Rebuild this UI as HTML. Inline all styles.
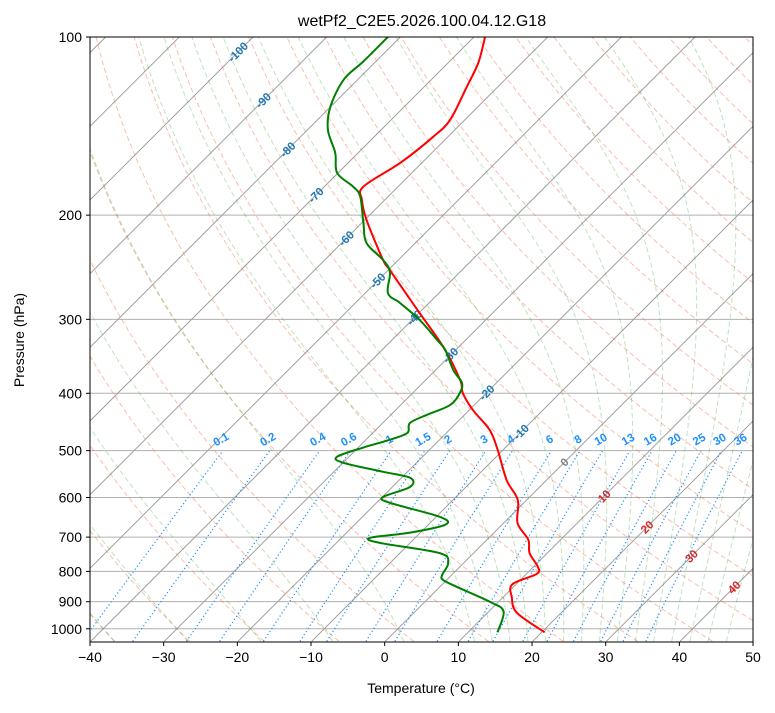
<!DOCTYPE html>
<html><head><meta charset="utf-8">
<style>
html,body{margin:0;padding:0;background:#fff;}
svg text{font-family:"Liberation Sans","DejaVu Sans",sans-serif;}
</style></head>
<body>
<svg id="chart" width="775" height="708" viewBox="0 0 775 708" xmlns="http://www.w3.org/2000/svg">
<defs><clipPath id="clip"><rect x="90" y="37" width="663" height="605"/></clipPath></defs>
<text x="422" y="26" text-anchor="middle" font-size="16">wetPf2_C2E5.2026.100.04.12.G18</text>
<g id="bg" clip-path="url(#clip)"></g>
<g id="labels"></g>
<g id="profiles" clip-path="url(#clip)"></g>
<rect x="90" y="37" width="663" height="605" fill="none" stroke="#000" stroke-width="1"/>
<g id="axes"></g>
<text x="421" y="693" text-anchor="middle" font-size="14">Temperature (°C)</text>
<text x="24" y="340" text-anchor="middle" font-size="14" transform="rotate(-90 24 340)">Pressure (hPa)</text>
</svg>
<script>
const tempP=[100,110.6,121.5,138,147.6,163,179,188.5,204,238,247.6,292.8,334,380,399.6,427,461.6,499,561,606,663,707,745,786,808,841,885,940,1014];
const tempT=[-68.5,-65.9,-64.2,-62.0,-62.0,-62.9,-64.7,-63.1,-59.7,-52.1,-49.8,-39.9,-32.1,-25.3,-23.2,-19.5,-14.5,-10.7,-5.4,-1.2,1.9,5.6,7.6,10.6,11.4,9.5,11.2,14.0,20.4];
const dewP=[100,110,118,131.3,143.6,157,169.8,179,186,206,223,238,249.6,271,281.6,301,325,338,365.5,384,399.6,419,435,449,466.6,479,494,512,524,543,556,576,599,613,647,667,688,702,716,745,774.5,811,827,851,901,935,1014];
const dewT=[-81.7,-81.7,-81.9,-80.0,-77.2,-73.1,-70.1,-66.1,-63.8,-59.8,-56.6,-52.1,-49.5,-46.9,-43.9,-38.9,-33.9,-31.4,-27.6,-24.7,-23.6,-23.3,-25.1,-26.3,-25.3,-26.7,-29.3,-31.6,-30.0,-23.3,-18.8,-17.6,-19.9,-18.1,-9.5,-7.7,-11.4,-16.1,-14.1,-4.6,-2.1,-1.3,-0.5,2.5,8.9,12.0,14.0];
const xTicks=[-40,-30,-20,-10,0,10,20,30,40,50];
const pTicks=[100,200,300,400,500,600,700,800,900,1000];
const isoT=[-150,-140,-130,-120,-110,-100,-90,-80,-70,-60,-50,-40,-30,-20,-10,0,10,20,30,40,50];
const dryT0=[];for(let t=-60;t<=250;t+=10)dryT0.push(t);
const moistT0=[-50,-40,-30,-20,-10,0,10,12.5,15,17.5,20,22.5,25,27.5,30,32.5,35,37.5,40,42.5,45];
const mixW=[0.1,0.2,0.4,0.6,1,1.5,2,3,4,6,8,10,13,16,20,25,30,36];
const isoLabels=[-100,-90,-80,-70,-60,-50,-40,-30,-20,-10,0,10,20,30,40];
const isoLabelP=[106,128,155,185,219,258,298,345,399,465,523,597,673,754,851];

const NS="http://www.w3.org/2000/svg";
function yP(p){return 37+257*Math.log(p/100);}
function xT(t,p){return 90+(t+40)*7.367+(642-yP(p));}
function el(tag,attrs,parent){const e=document.createElementNS(NS,tag);for(const k in attrs)e.setAttribute(k,attrs[k]);parent.appendChild(e);return e;}
const bg=document.getElementById('bg'),labels=document.getElementById('labels'),prof=document.getElementById('profiles'),axes=document.getElementById('axes');
function pathFrom(ps,ts){let d='';for(let i=0;i<ps.length;i++){d+=(i?'L':'M')+xT(ts[i],ps[i]).toFixed(2)+','+yP(ps[i]).toFixed(2);}return d;}
function smoothPath(ps,ts){const pts=ps.map((p,i)=>[xT(ts[i],p),yP(p)]);let d='M'+pts[0][0].toFixed(2)+','+pts[0][1].toFixed(2);
for(let i=0;i<pts.length-1;i++){const p0=pts[Math.max(0,i-1)],p1=pts[i],p2=pts[i+1],p3=pts[Math.min(pts.length-1,i+2)];
const c1=[p1[0]+(p2[0]-p0[0])/6,p1[1]+(p2[1]-p0[1])/6],c2=[p2[0]-(p3[0]-p1[0])/6,p2[1]-(p3[1]-p1[1])/6];
d+='C'+c1[0].toFixed(2)+','+c1[1].toFixed(2)+' '+c2[0].toFixed(2)+','+c2[1].toFixed(2)+' '+p2[0].toFixed(2)+','+p2[1].toFixed(2);}
return d;}

pTicks.forEach(p=>{
const l=el('line',{x1:90,x2:753,y1:yP(p),y2:yP(p),stroke:'#b0b0b0','stroke-width':1},bg);


});
isoT.forEach(t=>{
const l=el('line',{x1:xT(t,1050),y1:yP(1050),x2:xT(t,100),y2:yP(100),stroke:'#a0a0a0','stroke-width':1},bg);


});
dryT0.forEach(t0=>{
const th=t0+273.15;const ps=[],ts=[];
for(let p=1050;p>=100;p-=10){ps.push(p);ts.push(th*Math.pow(p/1000,0.2857)-273.15);}
const l=el('path',{d:pathFrom(ps,ts),fill:'none',stroke:'rgba(245,110,70,0.45)','stroke-width':1,'stroke-dasharray':'5,3'},bg);


});
function dTdp(T,p){const es=6.112*Math.exp(17.67*(T-273.15)/(T-29.65));const rs=0.622*es/(p-es);
return (1/p)*(287.04*T+2.501e6*rs)/(1005.7+2.501e6*2.501e6*rs*0.622/(287.04*T*T));}
moistT0.forEach(t0=>{
let T=t0+273.15,p=1000;const up=[[p,T]];
while(p>100){const h=-2;const k1=dTdp(T,p),k2=dTdp(T+h*k1/2,p+h/2);T+=h*k2;p+=h;up.push([p,T]);}
T=t0+273.15;p=1000;const dn=[];
while(p<1050){const h=2;const k1=dTdp(T,p),k2=dTdp(T+h*k1/2,p+h/2);T+=h*k2;p+=h;dn.unshift([p,T]);}
const all=dn.concat(up);
const l=el('path',{d:pathFrom(all.map(a=>a[0]),all.map(a=>a[1]-273.15)),fill:'none',stroke:'rgba(44,160,44,0.3)','stroke-width':1,'stroke-dasharray':'5,3'},bg);


});
function tdFromW(w,p){const e=w*p/(622+w);const a=Math.log(e/6.112);return 243.5*a/(17.67-a);}
mixW.forEach(w=>{
const ps=[],ts=[];for(let p=1050;p>=500;p-=10){ps.push(p);ts.push(tdFromW(w,p));}
const l=el('path',{d:pathFrom(ps,ts),fill:'none',stroke:'#1e90ff','stroke-width':1.2,'stroke-dasharray':'1.2,2.5'},bg);


const x=xT(tdFromW(w,500),500),y=yP(500)-8;
const tx=el('text',{x:x,y:y,'text-anchor':'middle','font-size':11.5,'font-weight':'bold',fill:'#1e90ff',transform:'rotate(-30 '+x+' '+y+')'},labels);
tx.textContent=String(w);


});
isoLabels.forEach((t,i)=>{
const p=isoLabelP[i];const y=yP(p);
const x=xT(t,p);
const col=t<0?'#1f77b4':(t===0?'#808080':'#d62728');
const tx=el('text',{x:x,y:y+4,'text-anchor':'middle','font-size':11.5,'font-weight':'bold',fill:col,transform:'rotate(-45 '+x+' '+y+')'},labels);
tx.textContent=String(t);


});
const tl=el('path',{d:smoothPath(tempP,tempT),fill:'none',stroke:'#ff0000','stroke-width':2,'stroke-linejoin':'round'},prof);


const dl=el('path',{d:smoothPath(dewP,dewT),fill:'none',stroke:'#008000','stroke-width':2,'stroke-linejoin':'round'},prof);


xTicks.forEach(t=>{
const x=90+(t+40)*7.367;
const l=el('line',{x1:x,x2:x,y1:642,y2:646,stroke:'#000'},axes);


const tx=el('text',{x:x,y:662,'text-anchor':'middle','font-size':14},axes);
tx.textContent=(t<0?'\u2212'+(-t):String(t));


});
pTicks.forEach(p=>{
const y=yP(p);
const l=el('line',{x1:86,x2:90,y1:y,y2:y,stroke:'#000'},axes);


const tx=el('text',{x:82,y:y+5,'text-anchor':'end','font-size':14},axes);
tx.textContent=String(p);


});
</script>
</body></html>
